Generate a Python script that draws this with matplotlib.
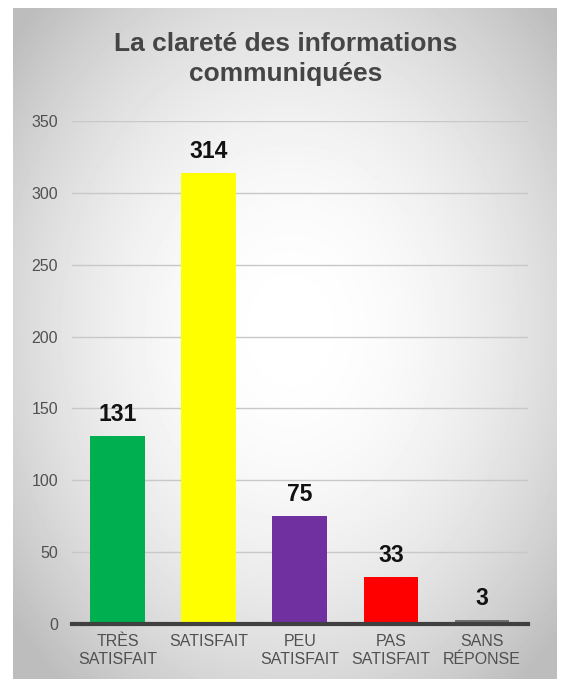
import numpy as np
import matplotlib.pyplot as plt

plt.rcParams['font.family'] = ['Liberation Sans', 'DejaVu Sans']

categories = ['TRÈS\nSATISFAIT', 'SATISFAIT', 'PEU\nSATISFAIT', 'PAS\nSATISFAIT', 'SANS\nRÉPONSE']
values = [131, 314, 75, 33, 3]
colors = ['#00B050', '#FFFF00', '#7030A0', '#FF0000', '#707070']
yticks = [0, 50, 100, 150, 200, 250, 300, 350]
title = 'La clareté des informations\ncommuniquées'

W, H = 564, 679
fig = plt.figure(figsize=(W / 100, H / 100), dpi=100)

# background: white border, grey panel with radial light centre
yy, xx = np.mgrid[0:H, 0:W]
cx, cy = 290, 330
r = np.sqrt(((xx - cx) / 330.0) ** 2 + ((yy - cy) / 420.0) ** 2)
bg = 1.0 - 0.22 * np.clip(r, 0, 1.2) ** 2.0
bg = np.clip(bg, 0.74, 1.0)
panel = (xx >= 13) & (xx <= 556) & (yy >= 8)
bg = np.where(panel, bg, 1.0)
bgax = fig.add_axes([0, 0, 1, 1])
bgax.imshow(bg, cmap='gray', vmin=0, vmax=1, aspect='auto', interpolation='bilinear')
bgax.axis('off')

ax = fig.add_axes([72 / W, 55 / H, 455.5 / W, 503 / H])
ax.patch.set_alpha(0)
x = np.arange(len(values))
ax.bar(x, values, width=0.6, color=colors, zorder=3)
for xi, v in zip(x, values):
    ax.text(xi, v + 7, str(v), ha='center', va='bottom', fontsize=16.5,
            fontweight='bold', color='#111111', zorder=4)

ax.set_xlim(-0.5, len(values) - 0.5)
ax.set_ylim(0, 350)
ax.set_yticks(yticks)
ax.set_xticks(x)
ax.set_xticklabels(categories, fontsize=11.5, color='#505050', linespacing=1.3)
ax.tick_params(axis='y', labelsize=11.5, labelcolor='#505050', length=0, pad=10)
ax.tick_params(axis='x', length=0, pad=7)
ax.grid(axis='y', color='#c8c8c8', linewidth=1, zorder=0)
for s in ['top', 'right', 'left']:
    ax.spines[s].set_visible(False)
ax.spines['bottom'].set_color('#404040')
ax.spines['bottom'].set_linewidth(3)
ax.spines['bottom'].set_zorder(5)

fig.text(286 / W, 1 - 59 / H, title, ha='center', va='center', fontsize=19,
         fontweight='bold', color='#454545', linespacing=1.3)

fig.savefig('out.png', dpi=100)
